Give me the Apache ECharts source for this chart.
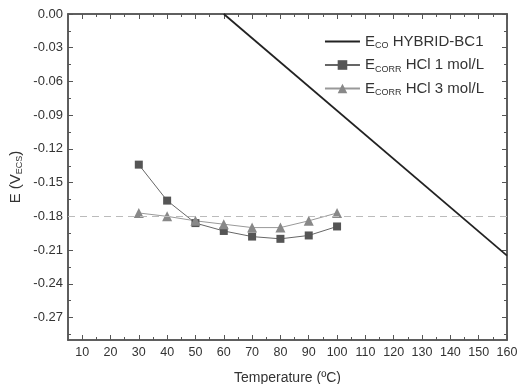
<!DOCTYPE html>
<html lang="en">
<head>
    <meta charset="UTF-8">
    <title>Corrosion Potential vs Temperature</title>
    <script src="https://cdn.jsdelivr.net/npm/echarts@6.0.0/dist/echarts.min.js"></script>
    <style>
        body { margin: 0; background: #fff; }
        #chart { width: 517px; height: 384px; }
    </style>
</head>
<body>
    <div id="chart"></div>
    <script>
        // data
        var temps = [30, 40, 50, 60, 70, 80, 90, 100];
        var hcl1 = [-0.134, -0.166, -0.186, -0.193, -0.198, -0.200, -0.197, -0.189];
        var hcl3 = [-0.177, -0.180, -0.184, -0.187, -0.190, -0.190, -0.184, -0.177];
        var ecoTemps = [60, 160];
        var ecoValues = [0.0, -0.215];
        var refLevel = -0.184;

        var xMajor = [10, 20, 30, 40, 50, 60, 70, 80, 90, 100, 110, 120, 130, 140, 150, 160];
        var xMinor = [15, 25, 35, 45, 55, 65, 75, 85, 95, 105, 115, 125, 135, 145, 155];
        var yMajor = [0, -0.03, -0.06, -0.09, -0.12, -0.15, -0.18, -0.21, -0.24, -0.27];
        var yMinor = [-0.015, -0.045, -0.075, -0.105, -0.135, -0.165, -0.195, -0.225, -0.255, -0.285];

        var chart = echarts.init(document.getElementById('chart'));
        var font = 'Liberation Sans, Arial, sans-serif';
        var axisColor = '#555';

        function xAx(pos, ticks, len, labels) {
            return {
                type: 'value', position: pos, min: 5, max: 160,
                axisLine: { show: true, onZero: false, lineStyle: { color: axisColor, width: 1.5 } },
                axisTick: { show: true, inside: true, length: len, customValues: ticks, lineStyle: { color: axisColor } },
                axisLabel: labels ? { show: true, customValues: xMajor, color: '#333', fontSize: 12.5, fontFamily: font, margin: 6 } : { show: false },
                splitLine: { show: false }
            };
        }
        function yAx(pos, ticks, len, labels) {
            return {
                type: 'value', position: pos, min: -0.29, max: 0,
                axisLine: { show: true, onZero: false, lineStyle: { color: axisColor, width: 1.5 } },
                axisTick: { show: true, inside: true, length: len, customValues: ticks, lineStyle: { color: axisColor } },
                axisLabel: labels ? {
                    show: true, customValues: yMajor, color: '#333', fontSize: 13, fontFamily: font, margin: 5,
                    formatter: function (v) { return v.toFixed(2); }
                } : { show: false },
                splitLine: { show: false }
            };
        }

        var xAxes = [xAx('bottom', xMajor, 5, true), xAx('bottom', xMinor, 3, false), xAx('top', xMajor, 5, false), xAx('top', xMinor, 3, false)];
        xAxes[0].name = 'Temperature (ºC)';
        xAxes[0].nameLocation = 'middle';
        xAxes[0].nameGap = 31;
        xAxes[0].nameTextStyle = { color: '#333', fontSize: 14, fontFamily: font };

        var yAxes = [yAx('left', yMajor, 5, true), yAx('left', yMinor, 3, false), yAx('right', yMajor, 5, false), yAx('right', yMinor, 3, false)];
        yAxes[0].name = '{n|E (V}{s|ECS}{n|)}';
        yAxes[0].nameLocation = 'middle';
        yAxes[0].nameGap = 44;
        yAxes[0].nameMoveOverlap = false;
        yAxes[0].nameTextStyle = {
            color: '#333', fontFamily: font,
            rich: {
                n: { fontSize: 15, fontFamily: font, color: '#333' },
                s: { fontSize: 9, fontFamily: font, color: '#333', padding: [8, 0, 0, 0] }
            }
        };

        var option = {
            animation: false,
            grid: { left: 68, right: 10, top: 14, bottom: 44, outerBoundsMode: 'none' },
            xAxis: xAxes,
            yAxis: yAxes,
            legend: {
                orient: 'vertical', right: 28, top: 29, itemGap: 7,
                itemWidth: 35, itemHeight: 12,
                textStyle: {
                    color: '#333', fontFamily: font, fontSize: 15,
                    rich: {
                        n: { fontSize: 15, fontFamily: font, color: '#333' },
                        s: { fontSize: 9, fontFamily: font, color: '#333', padding: [9, 0, 0, 0] }
                    }
                },
                formatter: function (name) {
                    if (name === 'eco') return '{n|E}{s|CO}{n| HYBRID-BC1}';
                    if (name === 'h1') return '{n|E}{s|CORR}{n| HCl 1 mol/L}';
                    return '{n|E}{s|CORR}{n| HCl 3 mol/L}';
                },
                data: [
                    { name: 'eco', itemStyle: { opacity: 0 } },
                    { name: 'h1' },
                    { name: 'h3' }
                ]
            },
            series: [
                {
                    name: 'eco', type: 'line', symbol: 'none', clip: true,
                    data: ecoTemps.map(function (t, i) { return [t, ecoValues[i]]; }),
                    lineStyle: { color: '#222', width: 1.8 }, itemStyle: { color: '#222' },
                    markLine: {
                        silent: true, symbol: 'none', label: { show: false },
                        lineStyle: { color: '#bbb', type: [7, 5], width: 1.2 },
                        data: [{ yAxis: refLevel }]
                    }
                },
                {
                    name: 'h1', type: 'line', symbol: 'rect', symbolSize: 8,
                    data: temps.map(function (t, i) { return [t, hcl1[i]]; }),
                    lineStyle: { color: '#666', width: 1 }, itemStyle: { color: '#555' }
                },
                {
                    name: 'h3', type: 'line', symbol: 'triangle', symbolSize: 10,
                    data: temps.map(function (t, i) { return [t, hcl3[i]]; }),
                    lineStyle: { color: '#999', width: 1 }, itemStyle: { color: '#888' }
                }
            ]
        };
        chart.setOption(option);
    </script>
</body>
</html>
